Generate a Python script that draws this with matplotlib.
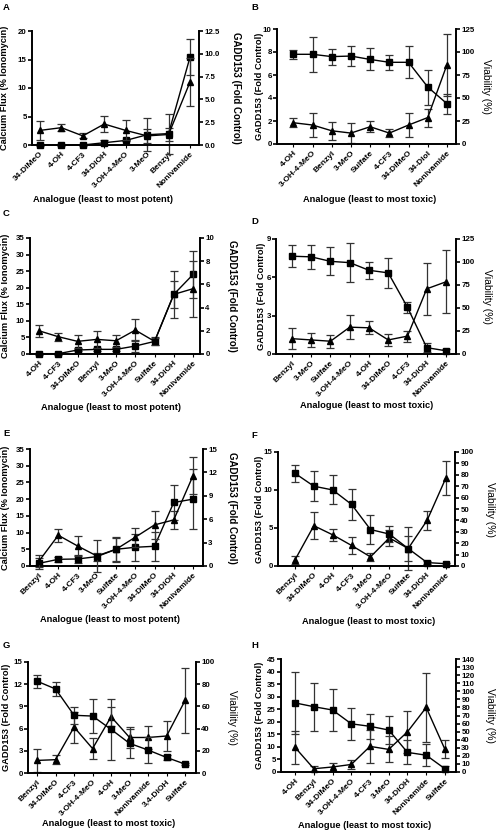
import matplotlib
matplotlib.use("Agg")
import matplotlib.pyplot as plt
import numpy as np

plt.rcParams['font.family'] = ['Liberation Sans', 'DejaVu Sans']
plt.rcParams['font.weight'] = 'bold'

# ---- data ----
# A: calcium flux (squares, left) and GADD153 (triangles, right)
cats_a = ['34-DiMeO', '4-OH', '4-CF3', '34-DiOH', '3-OH-4-MeO', '3-MeO', 'Benzyl', 'Nonivamide']
ca_a = [0, 0, 0, 0.4, 0.8, 1.8, 2.0, 15.4]
ca_a_err = [0.2, 0.2, 0.1, 0.45, 0.1, 2.9, 3.5, 3.2]
gadd_a = [1.6, 1.9, 1.0, 2.3, 1.6, 1.0, 1.15, 6.9]
gadd_a_err = [1.06, 0.35, 0.28, 0.85, 1.1, 0.75, 0.75, 2.6]

# B: GADD153 (triangles, left) and viability (squares, right)
cats_b = ['4-OH', '3-OH-4-MeO', 'Benzyl', '3-MeO', 'Sulfate', '4-CF3', '34-DiMeO', '34-Diol', 'Nonivamide']
gadd_b = [1.85, 1.65, 1.15, 0.95, 1.5, 0.95, 1.65, 2.3, 6.9]
gadd_b_err = [0.4, 1.05, 0.8, 0.9, 0.48, 0.33, 1.05, 0.78, 2.7]
via_b = [97.5, 97.5, 95, 95.6, 91.9, 88.8, 88.8, 61.9, 43.8]
via_b_err = [5, 19, 8.8, 11, 12, 8, 17.5, 19, 11]

# C
cats_c = ['4-OH', '4-CF3', '34-DiMeO', 'Benzyl', '3-MeO', '3-OH-4-MeO', 'Sulfate', '34-DiOH', 'Nonivamide']
ca_c = [0.1, 0.1, 1.2, 1.4, 1.4, 2.4, 3.8, 18, 24]
ca_c_err = [0.3, 0.3, 0.4, 0.4, 0.4, 1.7, 1.2, 7.1, 7]
gadd_c = [2.0, 1.49, 1.09, 1.26, 1.14, 2.06, 1.09, 5.14, 5.63]
gadd_c_err = [0.5, 0.34, 0.53, 0.73, 0.53, 0.97, 0.29, 1.14, 2.43]

# D
cats_d = ['Benzyl', '3-MeO', 'Sulfate', '3-OH-4-MeO', '4-OH', '34-DiMeO', '4-CF3', '34-DiOH', 'Nonivamide']
gadd_d = [1.2, 1.1, 1.0, 2.1, 2.05, 1.1, 1.4, 5.1, 5.65]
gadd_d_err = [0.8, 0.55, 0.5, 0.95, 0.5, 0.5, 0.43, 2.05, 2.48]
via_d = [106.3, 105.6, 100.7, 99.3, 91, 88.2, 50.7, 6.9, 3.5]
via_d_err = [11.8, 13.2, 15.3, 21.5, 9, 16, 6.3, 5, 2]

# E
cats_e = ['Benzyl', '4-OH', '4-CF3', '3-MeO', 'Sulfate', '3-OH-4-MeO', '34-DiMeO', '34-DiOH', 'Nonivamide']
ca_e = [0.8, 2.0, 2.1, 2.8, 5.0, 5.6, 5.9, 19, 20]
ca_e_err = [1.7, 0.8, 1.3, 1.2, 3.4, 4.1, 4.4, 5.2, 9]
gadd_e = [0.64, 3.94, 2.57, 1.29, 2.14, 3.69, 5.27, 5.91, 11.57]
gadd_e_err = [0.73, 0.86, 1.24, 2.06, 1.63, 1.2, 1.84, 1.16, 2.36]

# F
cats_f = ['Benzyl', '34-DiMeO', '4-OH', '4-CF3', '3-MeO', '3-OH-4-MeO', 'Sulfate', '34-DiOH', 'Nonivamide']
gadd_f = [0.8, 5.3, 4.1, 2.7, 1.2, 3.7, 2.3, 6.0, 11.6]
gadd_f_err = [0.5, 1.75, 0.8, 1.15, 0.55, 1.1, 2.8, 1.3, 2.25]
via_f = [81.3, 70, 66.7, 54, 32, 28, 15.3, 3, 2]
via_f_err = [7.3, 13, 12.7, 13.3, 13, 7, 11, 1, 1]

# G
cats_g = ['Benzyl', '34-DiMeO', '4-CF3', '3-OH-4-MeO', '4-OH', '3-MeO', 'Nonivamide', '3,4-DiOH', 'Sulfate']
gadd_g = [1.7, 1.8, 6.2, 3.3, 7.6, 4.8, 4.8, 5.0, 9.8]
gadd_g_err = [1.6, 0.6, 2.1, 1.45, 1.3, 1.4, 1.6, 2.0, 4.4]
via_g = [82.7, 75.7, 52, 51.3, 39.3, 26.7, 20.7, 14, 8]
via_g_err = [6, 6.3, 7.7, 15.3, 27.7, 13.3, 12, 2, 1]

# H
cats_h = ['4-OH', 'Benzyl', '34-DiMeO', '3-OH-4-MeO', '4-CF3', '3-MeO', '34-DiOH', 'Nonivamide', 'Sulfate']
gadd_h = [9.8, 1.3, 2.0, 3.0, 10.2, 9.0, 16, 25.7, 9.0]
gadd_h_err = [6.6, 1.1, 1.6, 1.7, 6.6, 5.2, 8.3, 13.6, 3.6]
via_h = [85.6, 80.9, 76.8, 59.7, 56.6, 52, 24.3, 20.8, 4]
via_h_err = [38.9, 29.5, 25.8, 20, 15.2, 17.4, 15, 13.4, 3]

W, H = 497, 832
fig = plt.figure(figsize=(W / 100, H / 100), dpi=100)


def box(l, t, r, b):
    return [l / W, 1 - b / H, (r - l) / W, (b - t) / H]


def fx(x):
    return x / W


def fy(y):
    return 1 - y / H


def series(ax, x, y, err, marker, ms):
    ax.errorbar(x, y, yerr=err, fmt='none', ecolor='#333333', elinewidth=0.9,
                capsize=2.7, capthick=0.9, clip_on=False, zorder=2)
    ax.plot(x, y, color='k', lw=1.0, marker=marker, ms=ms, clip_on=False, zorder=3)


def style(ax, ylim, step, fmt):
    ax.set_ylim(0, ylim)
    ax.set_yticks(np.arange(0, ylim + step / 2, step))
    ax.yaxis.set_major_formatter(plt.FormatStrFormatter(fmt))
    ax.spines['top'].set_visible(False)
    for s in ['left', 'right', 'bottom']:
        ax.spines[s].set_linewidth(1.4)
    ax.tick_params(direction='out', length=3, width=1.2, labelsize=5.7, pad=0.8)
    for lab in ax.get_yticklabels():
        lab.set_fontweight('bold')


def panel(letter, rect, xlim, cats, left, right, ltri, lims, lbls, letter_xy, xl_xy, yl_x):
    ax = fig.add_axes(box(*rect))
    ax2 = ax.twinx()
    x = np.arange(len(cats))
    ax.set_xlim(*xlim)
    # triangle series and square series on the chosen axes
    if ltri:
        series(ax, x, left[0], left[1], '^', 3.8)
        series(ax2, x, right[0], right[1], 's', 4.4)
    else:
        series(ax, x, left[0], left[1], 's', 4.4)
        series(ax2, x, right[0], right[1], '^', 3.8)
    style(ax, lims[0], lims[1], lims[2])
    style(ax2, lims[3], lims[4], lims[5])
    ax2.spines['left'].set_visible(False)
    ax2.spines['bottom'].set_visible(False)
    ax.spines['right'].set_visible(False)
    ax.set_xticks(x)
    ax.set_xticklabels(cats, rotation=45, ha='right', rotation_mode='anchor',
                       fontsize=6.0, fontweight='bold')
    ax.tick_params(axis='x', length=2, width=0.8, pad=2)
    ax2.tick_params(axis='x', length=0)

    yc = (rect[1] + rect[3]) / 2
    fig.text(fx(letter_xy[0]), fy(letter_xy[1]), letter, fontsize=6.8,
             fontweight='bold', ha='left', va='center')
    fig.text(fx(xl_xy[0]), fy(xl_xy[1]), lbls[2], fontsize=6.7,
             fontweight='bold', ha='center', va='center')
    fig.text(fx(yl_x[0]), fy(yc), lbls[0], fontsize=6.7, fontweight='bold',
             rotation=90, ha='center', va='center')
    rw = 'normal' if lbls[1].startswith('Viab') else 'bold'
    rs = 7.5 if rw == 'normal' else 7.0
    fig.text(fx(yl_x[1]), fy(yc), lbls[1], fontsize=rs, fontweight=rw,
             rotation=270, ha='center', va='center')


CA = 'Calcium Flux (% Ionomycin)'
GD = 'GADD153 (Fold Control)'
VB = 'Viability (%)'
POT = 'Analogue (least to most potent)'
TOX = 'Analogue (least to most toxic)'

panel('A', (32, 31, 199, 145), (-0.37, 7.42), cats_a, (ca_a, ca_a_err), (gadd_a, gadd_a_err), False,
      (20, 5, '%d', 12.5, 2.5, '%.1f'), (CA, GD, POT), (3, 8), (103, 200), (5, 236))
panel('B', (277, 29, 456, 144), (-0.85, 8.47), cats_b, (gadd_b, gadd_b_err), (via_b, via_b_err), True,
      (10, 2, '%d', 125, 25, '%d'), (GD, VB, TOX), (251, 8), (370, 200), (260, 486))
panel('C', (30, 238, 200, 354), (-0.47, 8.36), cats_c, (ca_c, ca_c_err), (gadd_c, gadd_c_err), False,
      (35, 5, '%d', 10, 2, '%d'), (CA, GD, POT), (3, 213), (111, 408), (6, 232))
panel('D', (276, 239, 456, 354), (-0.83, 8.52), cats_d, (gadd_d, gadd_d_err), (via_d, via_d_err), True,
      (9, 3, '%d', 125, 25, '%d'), (GD, VB, TOX), (251, 222), (367, 405), (261, 487))
panel('E', (30, 449, 203, 566), (-0.47, 8.52), cats_e, (ca_e, ca_e_err), (gadd_e, gadd_e_err), False,
      (35, 5, '%d', 15, 3, '%d'), (CA, GD, POT), (3, 433), (110, 620), (6, 232))
panel('F', (278, 452, 455, 566), (-0.9, 8.48), cats_f, (gadd_f, gadd_f_err), (via_f, via_f_err), True,
      (15, 5, '%d', 100, 10, '%d'), (GD, VB, TOX), (251, 435), (369, 622), (259, 490))
panel('G', (28, 662, 196, 773), (-0.49, 8.59), cats_g, (gadd_g, gadd_g_err), (via_g, via_g_err), True,
      (15, 3, '%d', 100, 20, '%d'), (GD, VB, TOX), (3, 645), (109, 823), (7, 232))
panel('H', (281, 659, 456, 772), (-0.75, 8.59), cats_h, (gadd_h, gadd_h_err), (via_h, via_h_err), True,
      (45, 5, '%d', 140, 10, '%d'), (GD, VB, TOX), (251, 645), (365, 825), (260, 490))

fig.savefig('out.png', dpi=100, facecolor='white')
